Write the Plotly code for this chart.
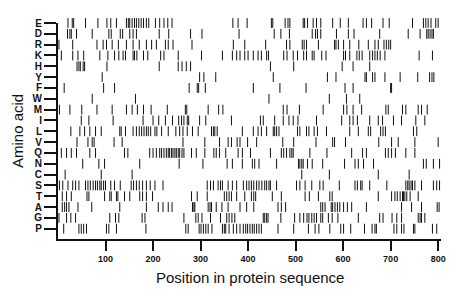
import plotly.graph_objects as go

amino_acids = ["E", "D", "R", "K", "H", "Y", "F", "W", "M", "I", "L", "V", "Q", "N", "C", "S", "T", "A", "G", "P"]

pos_E = [21, 30, 33, 58, 84, 103, 111, 123, 144, 148, 151, 156, 161, 165, 170, 175, 180, 186, 191, 205, 214, 223, 231, 240,
         368, 379, 398, 449, 452, 478, 484, 488, 516, 519, 525, 537, 544, 553, 578, 594, 611, 642, 649, 660, 684, 697,
         746, 769, 774, 779, 785, 795, 800]
pos_D = [20, 25, 28, 39, 72, 107, 112, 131, 136, 151, 158, 165, 213, 233, 279, 303, 381, 455, 469, 487, 535, 542, 546, 553,
         586, 611, 623, 677, 737, 762, 776, 779, 783, 787, 790]
pos_R = [2, 31, 82, 95, 102, 114, 127, 144, 158, 171, 186, 197, 207, 226, 232, 242, 282, 369, 393, 437, 481, 488, 514, 518,
         523, 548, 582, 585, 590, 601, 614, 633, 653, 667, 674, 686, 691, 696, 700]
pos_K = [7, 31, 42, 54, 88, 105, 119, 128, 137, 142, 158, 161, 166, 180, 189, 216, 223, 253, 302, 346, 367, 376, 383, 393,
         400, 411, 421, 428, 439, 443, 475, 482, 495, 504, 517, 523, 535, 539, 555, 564, 601, 605, 614, 629, 634, 640,
         656, 662, 667, 672, 678, 688, 760, 788]
pos_H = [40, 44, 47, 53, 56, 103, 213, 253, 261, 270, 279, 447, 496, 598, 621, 656]
pos_Y = [93, 298, 307, 332, 453, 567, 585, 646, 649, 662, 667, 688, 720, 757, 782, 787, 791]
pos_F = [13, 96, 119, 276, 293, 296, 310, 411, 467, 522, 604, 621, 700, 702]
pos_W = [72, 163, 444, 571, 607, 635]
pos_M = [3, 25, 50, 82, 114, 144, 156, 167, 180, 196, 230, 268, 271, 316, 338, 347, 474, 482, 508, 558, 601, 608, 621, 639,
         690, 695, 725, 732, 758, 765, 777]
pos_I = [49, 65, 116, 179, 200, 212, 226, 241, 254, 260, 265, 272, 275, 298, 311, 365, 426, 432, 456, 474, 486, 495, 505,
         544, 597, 614, 621, 630, 656, 674, 683, 706, 723, 753, 772]
pos_L = [27, 46, 56, 67, 79, 91, 130, 133, 142, 158, 165, 171, 176, 181, 186, 190, 195, 204, 208, 218, 232, 248, 256, 263,
         272, 283, 295, 323, 327, 330, 335, 388, 411, 421, 428, 439, 453, 456, 460, 465, 504, 509, 523, 528, 539, 546,
         565, 614, 632, 653, 658, 679, 684, 689, 748, 755]
pos_V = [40, 63, 72, 76, 118, 135, 263, 309, 340, 358, 365, 377, 383, 399, 418, 473, 496, 543, 578, 582, 605, 675, 702, 716,
         751, 800]
pos_Q = [7, 18, 28, 39, 67, 79, 140, 147, 193, 200, 207, 214, 218, 223, 228, 232, 235, 239, 242, 246, 249, 253, 256, 261,
         265, 281, 291, 309, 328, 333, 340, 353, 379, 388, 405, 447, 470, 475, 481, 488, 492, 495, 530, 566, 618, 641,
         649, 689, 695, 702, 710, 732, 751]
pos_N = [52, 86, 98, 172, 255, 305, 356, 367, 388, 409, 414, 423, 460, 506, 509, 513, 516, 525, 535, 557, 603, 625, 632, 643,
         664, 769, 775, 790, 803]
pos_C = [15, 91, 156, 513, 571, 674, 739]
pos_S = [3, 10, 21, 31, 37, 44, 58, 63, 68, 74, 79, 83, 88, 91, 96, 100, 111, 119, 131, 154, 159, 165, 171, 178, 186, 194,
         204, 221, 314, 321, 327, 337, 342, 346, 358, 367, 376, 390, 397, 402, 407, 412, 418, 423, 429, 435, 439, 444,
         447, 460, 502, 509, 520, 534, 551, 558, 592, 625, 630, 637, 640, 656, 692, 732, 736, 739, 743, 746, 751, 765,
         790, 797, 803]
pos_T = [9, 18, 28, 61, 65, 98, 109, 112, 123, 126, 140, 151, 172, 178, 186, 199, 281, 293, 314, 350, 355, 360, 365, 376,
         393, 407, 412, 416, 451, 470, 520, 529, 548, 572, 577, 674, 702, 709, 714, 720, 725, 727, 730, 734, 741, 758]
pos_A = [9, 14, 18, 23, 42, 71, 130, 186, 211, 221, 232, 240, 283, 286, 288, 316, 320, 323, 333, 345, 358, 383, 397, 412,
         463, 470, 479, 553, 557, 562, 575, 578, 583, 588, 593, 601, 609, 618, 649, 723, 744, 765, 798, 802]
pos_G = [2, 18, 27, 37, 109, 121, 128, 177, 183, 265, 290, 295, 303, 321, 342, 355, 360, 366, 372, 432, 435, 439, 442, 469,
         498, 509, 517, 524, 528, 534, 539, 544, 553, 557, 569, 577, 589, 632, 677, 684, 703, 713, 723, 758, 762, 765, 772]
pos_P = [12, 44, 49, 54, 60, 102, 107, 123, 185, 269, 274, 297, 301, 306, 311, 316, 324, 346, 350, 353, 360, 369, 376, 383,
         390, 395, 399, 404, 409, 413, 418, 423, 428, 463, 496, 527, 541, 549, 572, 595, 601, 616, 645, 661, 667, 670,
         707, 713, 723, 728, 748, 751, 788, 797]

positions = {"E": pos_E, "D": pos_D, "R": pos_R, "K": pos_K, "H": pos_H, "Y": pos_Y, "F": pos_F, "W": pos_W,
             "M": pos_M, "I": pos_I, "L": pos_L, "V": pos_V, "Q": pos_Q, "N": pos_N, "C": pos_C, "S": pos_S,
             "T": pos_T, "A": pos_A, "G": pos_G, "P": pos_P}

x_tick_vals = [100, 200, 300, 400, 500, 600, 700, 800]

n = len(amino_acids)
row_index = {aa: n - 1 - i for i, aa in enumerate(amino_acids)}

xs, ys = [], []
for aa in amino_acids:
    for p in positions[aa]:
        xs.append(p)
        ys.append(row_index[aa])

ink = "#111111"

fig = go.Figure()
fig.add_trace(go.Scatter(
    x=xs, y=ys, mode="markers", cliponaxis=False,
    marker=dict(symbol="line-ns-open", size=7, line=dict(width=1, color=ink), color=ink),
    hoverinfo="x+y", showlegend=False,
))

tick_font = dict(family="Liberation Sans", size=10, color=ink, weight="bold")

# page body adds an 8px offset; margins compensate so the plot area lands at 58..441 x 23..239
fig.update_layout(
    width=460, height=299,
    margin=dict(l=50, r=27, t=15, b=68),
    paper_bgcolor="white", plot_bgcolor="white",
    xaxis=dict(
        range=[0, 806], tickvals=x_tick_vals, ticks="outside", ticklen=10, tickwidth=2,
        tickcolor=ink, showline=True, linecolor=ink, linewidth=2, showgrid=False,
        zeroline=False, automargin=False,
        tickfont=dict(family="Liberation Sans", size=9, color=ink, weight="bold"),
    ),
    yaxis=dict(
        range=[-0.95, 19], tickvals=[row_index[a] for a in amino_acids], ticktext=amino_acids,
        ticks="outside", ticklen=12, tickwidth=2, tickcolor=ink, showline=True,
        linecolor=ink, linewidth=2, showgrid=False, zeroline=False, tickfont=tick_font,
        automargin=False,
    ),
    annotations=[
        dict(text="Position in protein sequence", xref="paper", yref="paper", x=0.5, y=0,
             yshift=-38, yanchor="middle", showarrow=False,
             font=dict(family="Liberation Sans", size=15, color=ink)),
        dict(text="Amino acid", xref="paper", yref="paper", x=0, y=0.5, xshift=-41,
             xanchor="center", yanchor="middle", textangle=-90, showarrow=False,
             font=dict(family="Liberation Sans", size=15, color=ink)),
    ],
)

fig.write_html("out.html")
